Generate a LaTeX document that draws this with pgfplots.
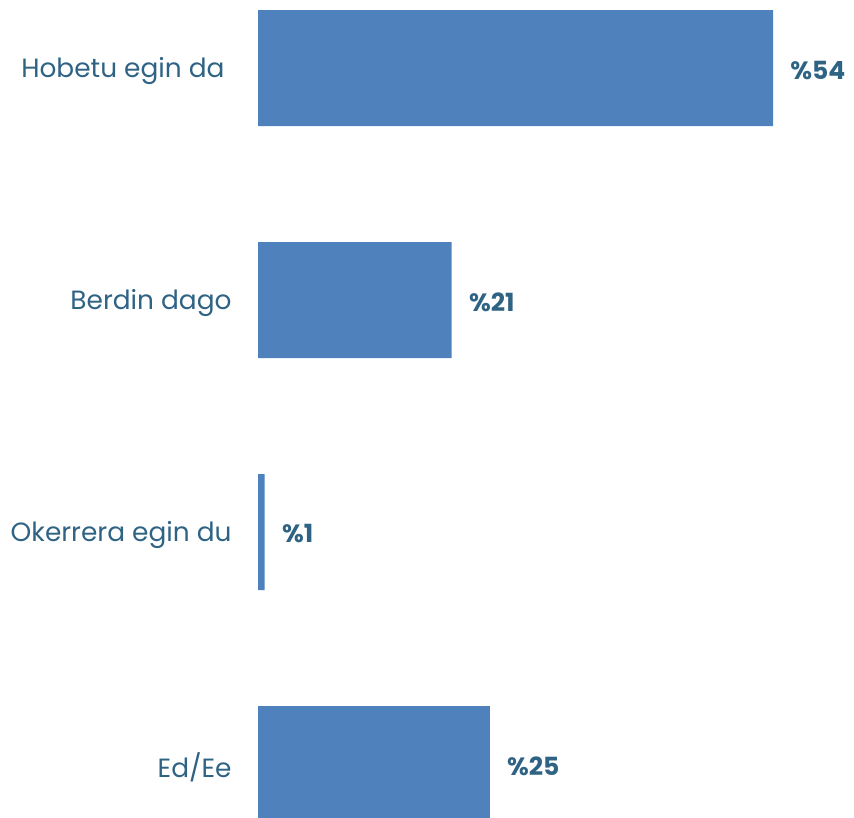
\documentclass[border=0pt]{standalone}
\usepackage{fontspec}
\setmainfont{Poppins}
\usepackage{pgfplots}
\pgfplotsset{compat=1.18}
\definecolor{barblue}{HTML}{4F81BD}
\definecolor{txtblue}{HTML}{2F6384}
\begin{document}
\begin{tikzpicture}
\useasboundingbox (0,0) rectangle (427pt,408.5pt);
\begin{axis}[
  at={(129pt,-31.5pt)}, anchor=south west,
  scale only axis,
  width=257.5pt, height=464pt,
  xmin=0, xmax=54,
  ymin=-0.5, ymax=3.5,
  y dir=reverse,
  xbar, bar width=58pt, bar shift=0pt,
  axis line style={draw=none},
  xtick=\empty,
  ytick={0,1,2,3},
  yticklabels={Hobetu egin da\kern3.5pt,Berdin dago,Okerrera egin du,Ed/Ee},
  major tick length=0pt,
  yticklabel style={font=\fontsize{13.2}{15}\selectfont, text=txtblue, inner sep=0pt, xshift=-13pt, yshift=-1.5pt},
  /pgf/number format/assume math mode=true,
  nodes near coords={\%\pgfmathprintnumber{\pgfplotspointmeta}},
  point meta=explicit,
  nodes near coords style={font=\bfseries\fontsize{12.5}{14}\selectfont, text=txtblue, anchor=west, inner sep=0pt, xshift=8.5pt, yshift=-1pt},
  clip=false,
]
\addplot[fill=barblue, draw=none] coordinates {
  (54,0) [54]
  (20.3,1) [21]
  (0.7,2) [1]
  (24.3,3) [25]
};
\end{axis}
\end{tikzpicture}
\end{document}
